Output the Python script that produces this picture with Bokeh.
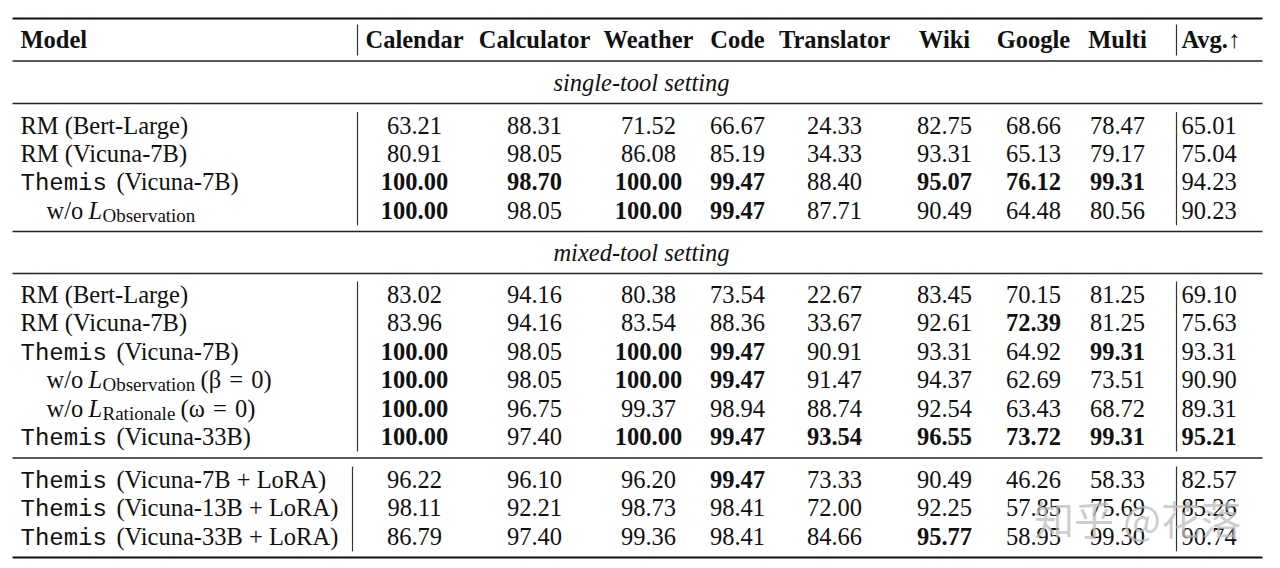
from bokeh.plotting import figure
from bokeh.models import ColumnDataSource, Range1d
from bokeh.core.properties import value
from bokeh.embed import file_html
from bokeh.resources import INLINE

# ---------------- data ----------------
columns = ["Calendar", "Calculator", "Weather", "Code", "Translator", "Wiki", "Google", "Multi"]
avg_label = "Avg.\u2191"
section_titles = ["single-tool setting", "mixed-tool setting"]

single_models = ["RM (Bert-Large)", "RM (Vicuna-7B)", "Themis (Vicuna-7B)", "w/o L_Observation"]
single_values = [
    [63.21, 88.31, 71.52, 66.67, 24.33, 82.75, 68.66, 78.47],
    [80.91, 98.05, 86.08, 85.19, 34.33, 93.31, 65.13, 79.17],
    [100.00, 98.70, 100.00, 99.47, 88.40, 95.07, 76.12, 99.31],
    [100.00, 98.05, 100.00, 99.47, 87.71, 90.49, 64.48, 80.56],
]
single_avg = [65.01, 75.04, 94.23, 90.23]
single_bold = [
    [0, 0, 0, 0, 0, 0, 0, 0, 0],
    [0, 0, 0, 0, 0, 0, 0, 0, 0],
    [1, 1, 1, 1, 0, 1, 1, 1, 0],
    [1, 0, 1, 1, 0, 0, 0, 0, 0],
]

mixed_models = ["RM (Bert-Large)", "RM (Vicuna-7B)", "Themis (Vicuna-7B)",
                "w/o L_Observation (\u03b2 = 0)", "w/o L_Rationale (\u03c9 = 0)", "Themis (Vicuna-33B)"]
mixed_values = [
    [83.02, 94.16, 80.38, 73.54, 22.67, 83.45, 70.15, 81.25],
    [83.96, 94.16, 83.54, 88.36, 33.67, 92.61, 72.39, 81.25],
    [100.00, 98.05, 100.00, 99.47, 90.91, 93.31, 64.92, 99.31],
    [100.00, 98.05, 100.00, 99.47, 91.47, 94.37, 62.69, 73.51],
    [100.00, 96.75, 99.37, 98.94, 88.74, 92.54, 63.43, 68.72],
    [100.00, 97.40, 100.00, 99.47, 93.54, 96.55, 73.72, 99.31],
]
mixed_avg = [69.10, 75.63, 93.31, 90.90, 89.31, 95.21]
mixed_bold = [
    [0, 0, 0, 0, 0, 0, 0, 0, 0],
    [0, 0, 0, 0, 0, 0, 1, 0, 0],
    [1, 0, 1, 1, 0, 0, 0, 1, 0],
    [1, 0, 1, 1, 0, 0, 0, 0, 0],
    [1, 0, 0, 0, 0, 0, 0, 0, 0],
    [1, 0, 1, 1, 1, 1, 1, 1, 1],
]

lora_models = ["Themis (Vicuna-7B + LoRA)", "Themis (Vicuna-13B + LoRA)", "Themis (Vicuna-33B + LoRA)"]
lora_values = [
    [96.22, 96.10, 96.20, 99.47, 73.33, 90.49, 46.26, 58.33],
    [98.11, 92.21, 98.73, 98.41, 72.00, 92.25, 57.85, 75.69],
    [86.79, 97.40, 99.36, 98.41, 84.66, 95.77, 58.95, 99.30],
]
lora_avg = [82.57, 85.26, 90.74]
lora_bold = [
    [0, 0, 0, 1, 0, 0, 0, 0, 0],
    [0, 0, 0, 0, 0, 0, 0, 0, 0],
    [0, 0, 0, 0, 0, 1, 0, 0, 0],
]

watermark = "\u77e5\u4e4e @\u82b1\u843d"

# ---------------- layout (page pixels) ----------------
SERIF = "Liberation Serif"
MONO = "Liberation Mono"
FS = 24.5
MONO_FS = 24
SUB_FS = 19
col_x = [414, 534, 648, 737, 834, 944, 1033, 1117]
avg_x = 1181
model_x = 20
indent_x = 46
pitch = 28.4
header_y = 39
section_title_y = [82, 252]
section_start = [124.5, 294, 479]
rule_left, rule_right = 12, 1262
heavy_rules = [18, 557]
light_rules = [60.5, 103, 231, 273, 457.5]
model_bar_x = [357, 357, 352]
avg_bar_x = 1176
sub_rest = {"Observation": 200, "Rationale": 180}

W, H = 1272, 560
p = figure(width=W, height=H, x_range=Range1d(0, W), y_range=Range1d(H, 0),
           output_backend="svg", toolbar_location=None, x_axis_type=None, y_axis_type=None,
           min_border=0, outline_line_color=None, background_fill_color="white")
p.grid.visible = False

# rules
p.segment(x0=[rule_left] * 2, x1=[rule_right] * 2, y0=heavy_rules, y1=heavy_rules,
          line_color="#111111", line_width=2.2)
p.segment(x0=[rule_left] * len(light_rules), x1=[rule_right] * len(light_rules),
          y0=light_rules, y1=light_rules, line_color="#222222", line_width=1.4)

# header
hdr = ColumnDataSource(dict(x=col_x, y=[header_y] * len(columns), t=columns))
p.text(x="x", y="y", text="t", source=hdr, text_font=value(SERIF), text_font_size=f"{FS}px",
       text_font_style="bold", text_align="center", text_baseline="middle", text_color="#111111")
p.text(x=[model_x, avg_x], y=[header_y] * 2, text=["Model", avg_label], text_font=value(SERIF),
       text_font_size=f"{FS}px", text_font_style="bold", text_align="left",
       text_baseline="middle", text_color="#111111")

# section titles
p.text(x=[(rule_left + rule_right) / 2 + 4] * 2, y=section_title_y, text=section_titles,
       text_font=value(SERIF), text_font_size=f"{FS}px", text_font_style="italic",
       text_align="center", text_baseline="middle", text_color="#111111")

# vertical bars
bars_x, bars_y0, bars_y1 = [model_bar_x[0], avg_bar_x], [24, 24], [55, 55]
sections = [(single_models, single_values, single_avg, single_bold),
            (mixed_models, mixed_values, mixed_avg, mixed_bold),
            (lora_models, lora_values, lora_avg, lora_bold)]
for si, (models, vals, avgs, bold) in enumerate(sections):
    y0 = section_start[si]
    ylast = y0 + pitch * (len(models) - 1)
    for bx in (model_bar_x[si], avg_bar_x):
        bars_x.append(bx)
        bars_y0.append(y0 - 13)
        bars_y1.append(ylast + 15)
p.segment(x0=bars_x, x1=bars_x, y0=bars_y0, y1=bars_y1, line_color="#333333", line_width=1.2)

# cells
cx, cy, ct, cs = [], [], [], []
ax, ay, at, as_ = [], [], [], []
serif_x, serif_y, serif_t = [], [], []
mono_x, mono_y, mono_t = [], [], []
ital_x, ital_y, ital_t = [], [], []
sub_x, sub_y, sub_t = [], [], []
for si, (models, vals, avgs, bold) in enumerate(sections):
    for ri, name in enumerate(models):
        y = section_start[si] + pitch * ri
        for ci, v in enumerate(vals[ri]):
            cx.append(col_x[ci]); cy.append(y); ct.append(f"{v:.2f}")
            cs.append("bold" if bold[ri][ci] else "normal")
        ax.append(avg_x); ay.append(y); at.append(f"{avgs[ri]:.2f}")
        as_.append("bold" if bold[ri][8] else "normal")
        # model label
        if name.startswith("Themis "):
            mono_x.append(model_x); mono_y.append(y + 2); mono_t.append("Themis")
            serif_x.append(model_x + 6 * 0.6 * MONO_FS + 9.5); serif_y.append(y)
            serif_t.append(name[len("Themis "):])
        elif name.startswith("w/o L_"):
            rest = name[len("w/o L_"):]
            word, _, tail = rest.partition(" ")
            serif_x.append(indent_x); serif_y.append(y); serif_t.append("w/o")
            ital_x.append(indent_x + 42); ital_y.append(y); ital_t.append("L")
            sub_x.append(indent_x + 56); sub_y.append(y + 5); sub_t.append(word)
            if tail:
                # math-style spacing around "="
                serif_x.append(sub_rest[word]); serif_y.append(y)
                serif_t.append(tail.replace(" = ", "\u2004=\u2004"))
        else:
            serif_x.append(model_x); serif_y.append(y); serif_t.append(name)

cells = ColumnDataSource(dict(x=cx, y=cy, t=ct, s=cs))
p.text(x="x", y="y", text="t", source=cells, text_font=value(SERIF), text_font_size=f"{FS}px",
       text_font_style="s", text_align="center", text_baseline="middle", text_color="#111111")
avgsrc = ColumnDataSource(dict(x=ax, y=ay, t=at, s=as_))
p.text(x="x", y="y", text="t", source=avgsrc, text_font=value(SERIF), text_font_size=f"{FS}px",
       text_font_style="s", text_align="left", text_baseline="middle", text_color="#111111")

p.text(x=serif_x, y=serif_y, text=serif_t, text_font=value(SERIF), text_font_size=f"{FS}px",
       text_align="left", text_baseline="middle", text_color="#111111")
p.text(x=mono_x, y=mono_y, text=mono_t, text_font=value(MONO), text_font_size=f"{MONO_FS}px",
       text_align="left", text_baseline="middle", text_color="#111111")
p.text(x=ital_x, y=ital_y, text=ital_t, text_font=value(SERIF), text_font_size=f"{FS}px",
       text_font_style="italic", text_align="left", text_baseline="middle", text_color="#111111")
p.text(x=sub_x, y=sub_y, text=sub_t, text_font=value(SERIF), text_font_size=f"{SUB_FS}px",
       text_align="left", text_baseline="middle", text_color="#111111")

# watermark
p.text(x=[1137], y=[517], text=[watermark], text_font=value("Noto Sans CJK SC"),
       text_font_size="40px", text_align="center", text_baseline="middle",
       text_color="#bdbdbd", text_alpha=0.75)

open("out.html", "w").write(file_html(p, INLINE))
